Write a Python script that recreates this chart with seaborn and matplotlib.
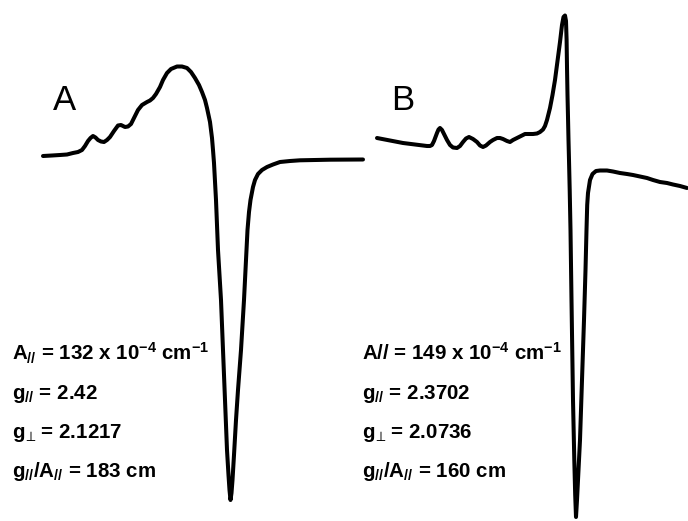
import matplotlib
matplotlib.use("Agg")
import matplotlib.pyplot as plt
import seaborn as sns
import pandas as pd

sns.set_theme(style="white")
plt.rcParams["font.family"] = ["Liberation Sans", "DejaVu Sans"]
plt.rcParams["mathtext.fontset"] = "custom"
plt.rcParams["mathtext.rm"] = "Liberation Sans:bold"
plt.rcParams["mathtext.it"] = "Liberation Sans:italic:bold"
plt.rcParams["mathtext.bf"] = "Liberation Sans:bold"
plt.rcParams["mathtext.fallback"] = "stixsans"

# Spectrum A (traced field position, signal level on the canvas scale)
field_a = [43, 52, 60, 67, 73, 78, 82, 85, 88, 90.5, 93, 95.5, 98, 101, 104,
           107, 110, 114, 118, 121, 125, 128, 131, 134, 138, 142, 147, 150, 153,
           156, 160, 163, 167, 171, 177, 182, 187, 191, 195, 199, 202, 205, 207,
           210, 212, 213, 214, 216, 218, 221, 223, 225, 227, 228.5, 229.5, 230.5,
           231.5, 232.5, 234, 236, 238, 241, 244, 246, 247.5, 249, 250.5, 253,
           255, 258, 262, 267, 273, 280, 290, 300, 330, 363]
signal_a = [156, 155.5, 155, 154.5, 153, 152, 150, 146, 141, 138, 136, 137.5,
            140, 141.5, 142, 140, 137, 131, 125.5, 125, 127, 126.5, 124, 118,
            110, 105, 102, 100.5, 98, 94, 87, 80, 73, 69, 66.5, 66.5, 68, 72,
            78, 85, 92, 100, 108, 122, 138, 150, 163, 200, 250, 300, 350, 400,
            450, 475, 490, 500, 493, 480, 455, 420, 390, 350, 300, 260, 230,
            212, 200, 187, 180, 174, 170, 167, 164.5, 162, 161, 160.3, 159.7,
            159.5]

# Spectrum B
field_b = [377, 390, 403, 415, 427, 430, 432, 434, 437, 438.5, 440, 442, 444,
           447, 450, 453, 457, 460, 463, 466, 469, 473, 477, 480, 483, 486, 490,
           493, 497, 500, 503, 507, 510, 513, 517, 521, 525, 529, 533, 537, 540,
           543, 545, 547, 550, 552.5, 555, 557.5, 560, 562, 563.5, 565, 566,
           566.6, 567, 567.5, 568, 568.5, 569, 569.7, 570.5, 571.5, 573, 574.3,
           575.2, 576, 577, 578, 579, 580, 582, 584, 585.5, 586.5, 587.2, 588,
           590, 592.5, 596, 600, 607, 613, 620, 627, 633, 640, 647, 653, 660,
           667, 673, 680, 687]
signal_b = [138, 140.5, 143, 144.5, 146, 146, 145, 141, 133, 129.5, 128, 130,
            134, 140, 145, 147.5, 148, 146, 142, 138.5, 137, 139, 142, 145.5,
            147, 145.5, 142, 140, 138, 138, 139, 141, 142, 140, 138, 136, 134,
            134, 134, 133.5, 132, 129.5, 126, 120, 108, 95, 80, 61, 42, 25, 17,
            15.5, 21, 40, 67, 95, 117, 140, 160, 190, 230, 300, 400, 460, 495,
            517, 500, 480, 460, 440, 380, 320, 270, 230, 205, 193, 180, 174,
            171, 170.5, 170.5, 171.5, 173, 174, 175, 176.5, 178, 180, 182, 183,
            184.5, 186, 188]

labels_a = [r"A$_{\mathit{//}}$ = 132 x 10$^{-4}$ cm$^{-1}$",
            r"g$_{\mathit{//}}$ = 2.42",
            r"g$_{\!\perp}\!$ = 2.1217",
            r"g$_{\mathit{//}}$/A$_{\mathit{//}}$ = 183 cm"]
labels_b = [r"A// = 149 x 10$^{-4}$ cm$^{-1}$",
            r"g$_{\mathit{//}}$ = 2.3702",
            r"g$_{\!\perp}\!$ = 2.0736",
            r"g$_{\mathit{//}}$/A$_{\mathit{//}}$ = 160 cm"]

W, H = 688, 521
fig = plt.figure(figsize=(W / 100, H / 100), dpi=100)
ax = fig.add_axes([0, 0, 1, 1])

df_a = pd.DataFrame({"field": field_a, "signal": signal_a})
df_b = pd.DataFrame({"field": field_b, "signal": signal_b})
for df in (df_a, df_b):
    sns.lineplot(data=df, x="field", y="signal", sort=False, estimator=None,
                 color="black", linewidth=2.9, ax=ax)
for line in ax.lines:
    line.set_solid_joinstyle("round")
    line.set_solid_capstyle("round")

ax.set_xlim(0, W)
ax.set_ylim(H, 0)
ax.axis("off")

ax.text(64.5, 101, "A", fontsize=25, ha="center", va="center", color="black")
ax.text(402.5, 101, "B", fontsize=25, ha="center", va="center", color="black")

baselines = [360, 399, 438, 477]
for x0, labels in ((12, labels_a), (362, labels_b)):
    for yb, s in zip(baselines, labels):
        ax.text(x0, yb, s, fontsize=14.8, fontweight="bold", ha="left",
                va="baseline", color="black")

fig.savefig("out.png", dpi=100, facecolor="white")
